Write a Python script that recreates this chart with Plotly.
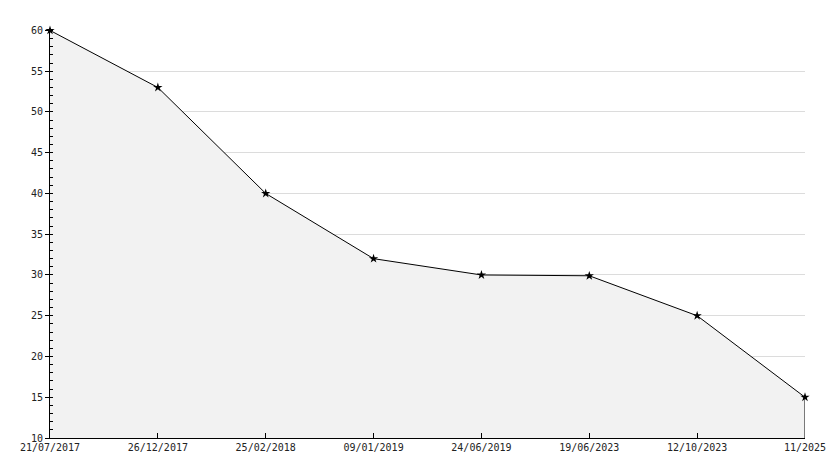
import plotly.graph_objects as go

dates = ["21/07/2017", "26/12/2017", "25/02/2018", "09/01/2019",
         "24/06/2019", "19/06/2023", "12/10/2023", "11/2025"]
values = [60, 53, 40, 32, 30, 29.9, 25, 15]
y_min, y_max = 10, 60

idx = list(range(len(dates)))
FONT = "DejaVu Sans Mono"

fig = go.Figure()
fig.add_trace(go.Scatter(
    x=idx, y=values, mode="lines+markers",
    line=dict(color="black", width=1),
    marker=dict(symbol="star", size=7, color="black"),
    fill="tozeroy", fillcolor="#f2f2f2",
    hoverinfo="skip", showlegend=False, cliponaxis=False,
))
# closing edge of the area at the last point
fig.add_trace(go.Scatter(
    x=[idx[-1], idx[-1]], y=[values[-1], y_min], mode="lines",
    line=dict(color="black", width=1), hoverinfo="skip", showlegend=False,
    cliponaxis=False,
))

fig.update_layout(
    width=834, height=468,
    margin=dict(l=50, r=29, t=30, b=30, autoexpand=False),
    paper_bgcolor="white", plot_bgcolor="white",
    font=dict(family=FONT, size=10, color="black"),
)
fig.update_xaxes(
    range=[idx[0], idx[-1]], tickvals=idx, ticktext=dates,
    showgrid=False, zeroline=False, automargin=False,
    showline=True, linecolor="black", linewidth=1,
    ticks="inside", ticklen=5, tickcolor="black",
    tickfont=dict(family=FONT, size=10, color="#222222"),
)
fig.update_yaxes(
    range=[y_min, y_max + 0.05], dtick=5, tick0=0,
    showgrid=True, gridcolor="#dcdcdc", gridwidth=1,
    zeroline=False, automargin=False,
    showline=True, linecolor="black", linewidth=1,
    ticks="outside", ticklen=4, tickcolor="black",
    minor=dict(dtick=1, ticks="inside", ticklen=3, tickcolor="black", showgrid=False),
    tickfont=dict(family=FONT, size=10, color="#222222"),
)
fig.write_html("out.html", config={"displayModeBar": False},
               post_script="document.body.style.margin='0';document.body.style.overflow='hidden';")
